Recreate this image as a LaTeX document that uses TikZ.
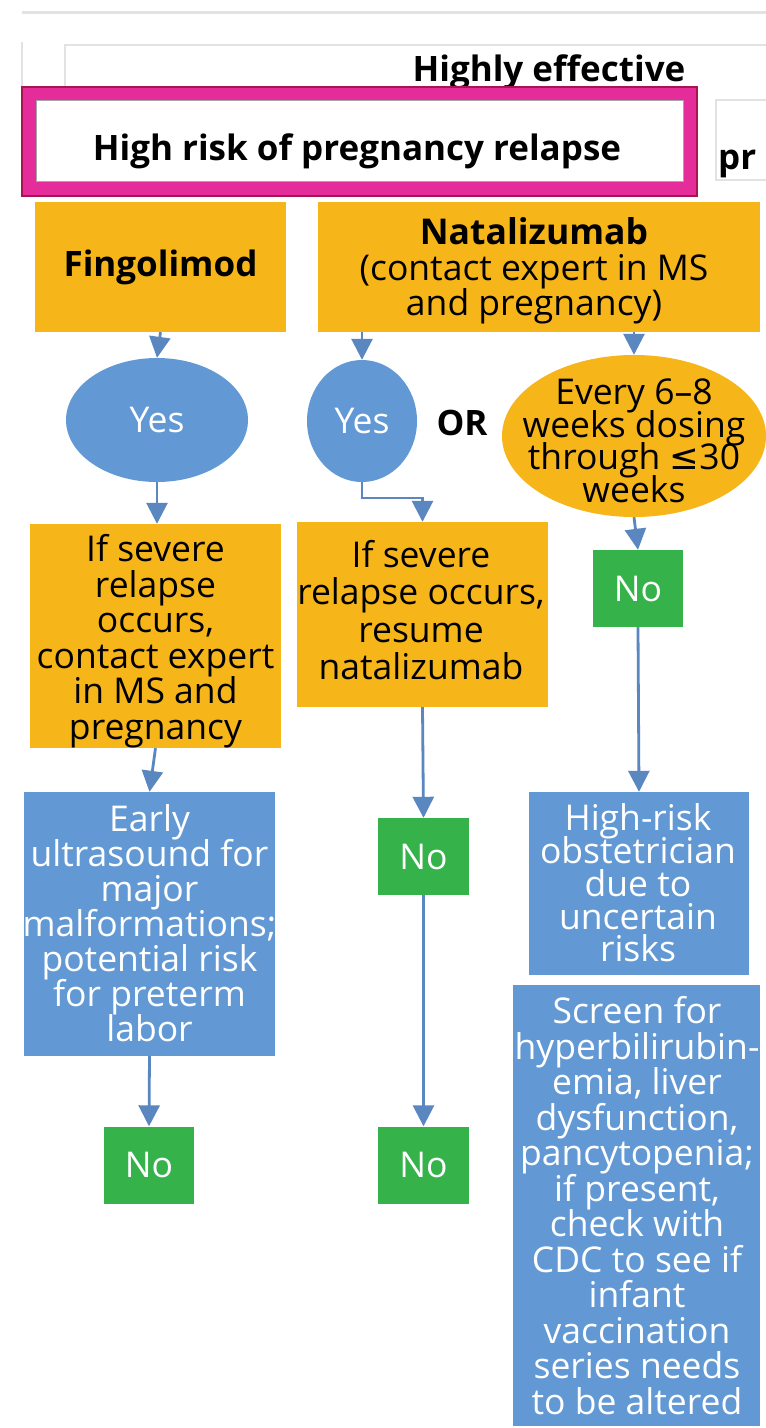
\documentclass[tikz,border=0pt]{standalone}
\usepackage{fontspec}
\setmainfont{Open Sans}
\newfontfamily\symfam{DejaVu Sans}
\usetikzlibrary{arrows.meta,shapes.geometric}
\definecolor{org}{HTML}{F6B519}
\definecolor{blu}{HTML}{6299D5}
\definecolor{grn}{HTML}{35B34A}
\definecolor{arr}{HTML}{5A87C0}
\definecolor{pnk}{HTML}{E42C9B}
\definecolor{pnkd}{HTML}{A8154E}
\definecolor{lgr}{HTML}{E2E2E2}
\newcommand\fsz[1]{\fontsize{35.5}{#1}\selectfont\lineskiplimit=-100pt\relax}
\newcommand\regf{\fsz{35.5}}
\newcommand\bldf{\fontsize{35}{38}\selectfont\bfseries}
\begin{document}
\begin{tikzpicture}[x=1pt,y=-1pt,
  obox/.style={rectangle,fill=org,inner sep=0pt},
  bbox/.style={rectangle,fill=blu,inner sep=0pt},
  gbox/.style={rectangle,fill=grn,inner sep=0pt,align=center,font=\regf,text=white,minimum width=91pt,minimum height=77pt},
  txt/.style={inner sep=0pt,align=center,font=\regf},
  wtxt/.style={txt,text=white},
  bell/.style={ellipse,fill=blu,inner sep=0pt,font=\regf,text=white},
  conn/.style={draw=arr,line width=2.8pt,-{Triangle[width=21pt,length=21pt]}}]
\useasboundingbox (0,0) rectangle (766,1428);
\fill[white] (0,0) rectangle (766,1428);
% top frame remnants
\draw[lgr,line width=3pt] (22,12) -- (766,12);
\draw[lgr,line width=1.5pt] (22,42) -- (22,87);
\draw[lgr,line width=1.5pt] (65,87) -- (65,45) -- (766,45);
\node[font=\bldf,anchor=center] (he) at (549,72) {Highly effective};
\draw[lgr,line width=1.5pt] (766,100) -- (716,100) -- (716,180) -- (766,180);
\node[font=\bldf,anchor=west,inner sep=0pt] (pr) at (718,164) {pr};
% pink header
\node[rectangle,fill=pnk,draw=pnkd,line width=1.5pt,minimum width=675pt,minimum height=109pt,inner sep=0pt] (pinkbox) at (359.5,141.5) {};
\node[rectangle,fill=white,draw=gray!70,line width=0.8pt,minimum width=647pt,minimum height=81pt,inner sep=0pt] (hr0) at (359.5,140.5) {};
\node[font=\bldf,inner sep=0pt] (hr0t) at (357,151.5) {High risk of pregnancy relapse};
% top boxes
\node[obox,minimum width=251pt,minimum height=130pt,font=\bldf] (fing) at (160.5,267) {Fingolimod};
\node[obox,minimum width=442pt,minimum height=130pt] (nat) at (539,267) {};
\node[txt] (natt) at (534,271) {{\bfseries Natalizumab}\\(contact expert in MS\\and pregnancy)};
% decision ellipses
\node[bell,minimum width=182pt,minimum height=124pt] (yes1) at (157,420) {Yes};
\node[bell,minimum width=110pt,minimum height=122pt] (yes2) at (362,421) {Yes};
\node[font=\bldf,inner sep=0pt] (or) at (462,423) {OR};
\node[ellipse,fill=org,inner sep=0pt,minimum width=264pt,minimum height=162pt] (every) at (634,436) {};
\node[txt,font=\fsz{32.5}] (everyt) at (634,441) {Every 6--8\\weeks dosing\\through {\symfam ≤}30\\weeks};
% second row
\node[obox,minimum width=251pt,minimum height=224pt] (box1) at (155.5,636) {};
\node[txt] (box1t) at (155.5,641) {If severe\\relapse\\occurs,\\contact expert\\in MS and\\pregnancy};
\node[obox,minimum width=251pt,minimum height=185pt] (box2) at (422.5,614.5) {};
\node[txt,font=\fsz{37.5}] (box2t) at (421,610) {If severe\\relapse occurs,\\resume\\natalizumab};
\node[gbox,minimum width=90pt] (no1) at (638,588.5) {No};
% third row
\node[bbox,minimum width=251pt,minimum height=264pt] (early) at (149.5,924) {};
\node[wtxt,font=\fsz{35}] (earlyt) at (149.5,923) {Early\\ultrasound for\\major\\malformations;\\potential risk\\for preterm\\labor};
\node[gbox] (no2) at (423.5,856.5) {No};
\node[bbox,minimum width=220pt,minimum height=183pt] (hrob) at (639,883.5) {};
\node[wtxt,font=\fsz{32.8}] (hrobt) at (638,883) {High-risk\\obstetrician\\due to\\uncertain\\risks};
\node[bbox,minimum width=247pt,minimum height=441pt] (screen) at (636.5,1205.5) {};
\node[wtxt] (screent) at (637,1205.5) {Screen for\\hyperbilirubin-\\emia, liver\\dysfunction,\\pancytopenia;\\if present,\\check with\\CDC to see if\\infant\\vaccination\\series needs\\to be altered};
% bottom
\node[gbox,minimum width=90pt] (no4) at (149,1165) {No};
\node[gbox] (no3) at (423.5,1165) {No};
% connectors
\draw[conn] (fing.south) -- (yes1.north);
\draw[conn] (nat.south -| yes2.north) -- (yes2.north);
\draw[conn] (nat.south -| every.north) -- (every.north);
\draw[conn] (yes1.south) -- (yes1.south |- box1.north);
\coordinate (elb) at (362,498);
\draw[conn] (yes2.south) -- (elb) -| (box2.north);
\draw[conn] (every.south) -- (no1.north);
\draw[conn] (box1.south) -- (early.north);
\draw[conn] (box2.south) -- (no2.north);
\draw[conn] (no2.south) -- (no3.north);
\draw[conn] (no1.south) -- (hrob.north);
\draw[conn] (early.south) -- (no4.north);
\end{tikzpicture}
\end{document}
